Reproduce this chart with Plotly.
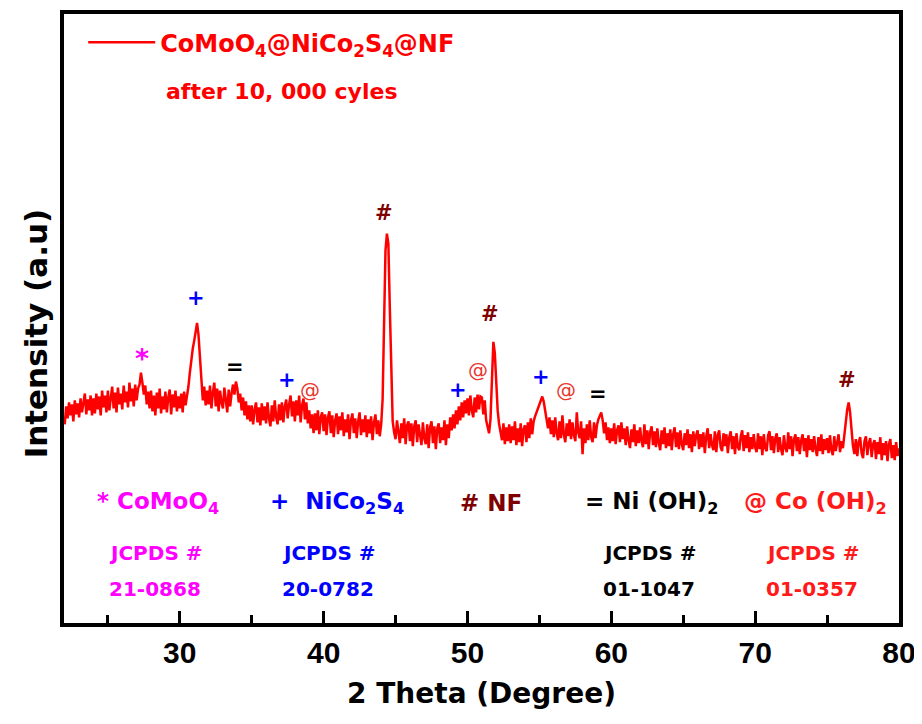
import numpy as np
import plotly.graph_objects as go

# 2-theta grid (degrees), 0.1 deg step from 22.0 to 80.0
two_theta = np.round(np.arange(22.0, 80.05, 0.1), 1)

# Intensity (a.u.), one row per degree
intensity = [
    200, 218, 206, 222, 209, 220, 203, 224, 210, 221,  # 22
    207, 226, 212, 223, 231, 210, 225, 214, 229, 209,  # 23
    226, 211, 231, 215, 228, 209, 234, 217, 229, 212,  # 24
    234, 214, 228, 238, 216, 232, 212, 237, 220, 231,  # 25
    215, 239, 222, 233, 217, 242, 223, 236, 218, 240,  # 26
    224, 236, 240, 252, 242, 230, 239, 220, 233, 216,  # 27
    234, 213, 229, 209, 232, 216, 236, 211, 228, 215,  # 28
    233, 212, 227, 235, 210, 230, 217, 234, 213, 228,  # 29
    216, 231, 212, 233, 219, 228, 238, 252, 268, 276,  # 30
    284, 295, 302, 290, 270, 246, 224, 238, 219, 234,  # 31
    220, 239, 216, 232, 242, 218, 236, 213, 234, 222,  # 32
    216, 237, 221, 212, 235, 218, 231, 240, 230, 243,  # 33
    236, 222, 231, 214, 227, 209, 223, 205, 219, 203,  # 34
    219, 200, 215, 222, 202, 217, 199, 221, 204, 218,  # 35
    201, 222, 206, 198, 219, 203, 224, 207, 200, 220,  # 36
    204, 222, 202, 218, 225, 206, 220, 229, 208, 223,  # 37
    203, 224, 209, 229, 202, 219, 226, 205, 222, 201,  # 38
    214, 196, 210, 191, 211, 194, 214, 190, 207, 212,  # 39
    193, 210, 189, 207, 213, 191, 209, 187, 204, 211,  # 40
    190, 208, 194, 212, 188, 205, 192, 210, 185, 204,  # 41
    211, 191, 206, 186, 203, 212, 189, 205, 192, 209,  # 42
    187, 205, 191, 208, 184, 202, 210, 190, 204, 188,  # 43
    200, 225, 300, 375, 392, 382, 318, 250, 203, 192,  # 44
    185, 204, 189, 181, 201, 186, 206, 180, 199, 203,  # 45
    183, 201, 178, 198, 204, 182, 200, 187, 179, 202,  # 46
    186, 180, 200, 176, 197, 203, 181, 198, 175, 196,  # 47
    201, 181, 197, 184, 204, 179, 200, 186, 207, 194,  # 48
    210, 196, 214, 200, 218, 204, 222, 207, 224, 211,  # 49
    226, 209, 229, 214, 207, 227, 212, 230, 215, 228,  # 50
    227, 210, 224, 204, 198, 191, 205, 250, 283, 272,  # 51
    240, 214, 200, 192, 184, 201, 180, 197, 183, 200,  # 52
    181, 198, 184, 203, 179, 196, 182, 201, 178, 195,  # 53
    199, 182, 202, 186, 206, 190, 203, 208, 212, 216,  # 54
    221, 226, 228, 223, 215, 206, 196, 207, 190, 204,  # 55
    187, 207, 191, 184, 203, 186, 209, 190, 182, 201,  # 56
    188, 205, 185, 202, 189, 183, 212, 192, 186, 203,  # 57
    170, 196, 181, 200, 184, 204, 187, 182, 202, 186,  # 58
    199, 205, 209, 212, 204, 191, 202, 184, 197, 181,  # 59
    196, 183, 201, 180, 194, 199, 182, 202, 185, 196,  # 60
    179, 198, 184, 176, 195, 182, 200, 178, 194, 181,  # 61
    197, 183, 177, 200, 180, 194, 175, 192, 198, 179,  # 62
    193, 177, 196, 181, 174, 194, 180, 197, 176, 191,  # 63
    178, 195, 174, 190, 197, 177, 192, 175, 194, 180,  # 64
    174, 191, 179, 195, 176, 190, 172, 193, 178, 189,  # 65
    194, 175, 190, 177, 192, 171, 188, 196, 176, 190,  # 66
    179, 174, 193, 172, 189, 194, 177, 173, 191, 178,  # 67
    190, 171, 187, 193, 175, 188, 170, 191, 177, 174,  # 68
    188, 194, 173, 189, 176, 192, 172, 187, 175, 190,  # 69
    177, 172, 191, 175, 188, 169, 190, 176, 173, 189,  # 70
    193, 174, 188, 171, 186, 191, 172, 187, 175, 169,  # 71
    189, 176, 172, 192, 175, 188, 168, 185, 190, 173,  # 72
    187, 170, 184, 190, 173, 186, 167, 189, 174, 185,  # 73
    172, 188, 175, 168, 187, 173, 190, 170, 185, 174,  # 74
    186, 171, 189, 174, 169, 188, 173, 184, 190, 172,  # 75
    183, 176, 190, 200, 215, 222, 212, 195, 178, 170,  # 76
    185, 168, 182, 187, 171, 166, 183, 188, 169, 181,  # 77
    186, 167, 180, 184, 165, 182, 170, 187, 164, 181,  # 78
    169, 183, 163, 180, 185, 166, 179, 164, 182, 168,  # 79
    176,                                               # 80
]

# Peak markers: symbol, 2-theta, intensity level of label, phase
marker_symbols = ["*", "+", "=", "+", "@", "#", "+", "@", "#", "+", "@", "=", "#"]
marker_theta = [27.4, 31.15, 33.85, 37.45, 39.05, 44.2, 49.35, 50.7, 51.55, 55.1, 56.85, 59.1, 76.4]
marker_level = [266, 327, 258, 245, 235, 413, 235, 255, 311, 248, 235, 231, 245]
marker_phase = ["CoMoO4", "NiCo2S4", "NiOH2", "NiCo2S4", "CoOH2", "NF", "NiCo2S4", "CoOH2",
                "NF", "NiCo2S4", "CoOH2", "NiOH2", "NF"]

phase_colors = {
    "CoMoO4": "#ff00ff",
    "NiCo2S4": "#0000ff",
    "NF": "#7f0000",
    "NiOH2": "#000000",
    "CoOH2": "#ff1a1a",
}

# Phase key (bottom of plot)
phase_keys = ["CoMoO4", "NiCo2S4", "NF", "NiOH2", "CoOH2"]
phase_titles = ["* CoMoO<sub>4</sub>", "+  NiCo<sub>2</sub>S<sub>4</sub>", "# NF",
                "= Ni (OH)<sub>2</sub>", "@ Co (OH)<sub>2</sub>"]
phase_cards = ["21-0868", "20-0782", "", "01-1047", "01-0357"]
phase_title_x = [24.1, 36.1, 49.34, 58.0, 69.1]
phase_card_x = [24.95, 37.0, None, 59.3, 70.6]

x_ticks = [30, 40, 50, 60, 70, 80]

WIDE = "DejaVu Sans"
TICK = "Liberation Sans"

fig = go.Figure()
fig.add_trace(go.Scatter(
    x=two_theta, y=intensity, mode="lines",
    line=dict(color="#ff0000", width=2.5),
    name="<b>CoMoO<sub>4</sub>@NiCo<sub>2</sub>S<sub>4</sub>@NF</b>",
    showlegend=True,
))

annotations = []
for s, xt, lv, ph in zip(marker_symbols, marker_theta, marker_level, marker_phase):
    col = phase_colors[ph]
    if s == "@":
        col = "#e8372f"
    size = 21
    if s == "@":
        size = 20
    elif s == "*":
        size = 27
    annotations.append(dict(
        x=xt, y=lv, xref="x", yref="y", text=s if s == "@" else "<b>%s</b>" % s,
        showarrow=False,
        font=dict(family=WIDE, size=size, color=col),
        xanchor="center", yanchor="middle",
    ))

for key, title, card, tx, cx in zip(phase_keys, phase_titles, phase_cards, phase_title_x, phase_card_x):
    col = phase_colors[key]
    annotations.append(dict(
        x=tx, y=121, xref="x", yref="y", text="<b>%s</b>" % title, showarrow=False,
        font=dict(family=WIDE, size=23, color=col), xanchor="left", yanchor="middle",
    ))
    if card:
        annotations.append(dict(
            x=cx, y=70, xref="x", yref="y", text="<b>JCPDS #</b>", showarrow=False,
            font=dict(family=WIDE, size=20, color=col), xanchor="left", yanchor="middle",
        ))
        annotations.append(dict(
            x=cx, y=34, xref="x", yref="y", text="<b>%s</b>" % card, showarrow=False,
            font=dict(family=WIDE, size=20, color=col), xanchor="left", yanchor="middle",
        ))

annotations.append(dict(
    x=0.12, y=0.872, xref="paper", yref="paper", text="<b>after 10, 000 cyles</b>",
    showarrow=False, font=dict(family=WIDE, size=22, color="#ff0000"),
    xanchor="left", yanchor="middle",
))

# y-axis title, placed a little below the plot centre as in the original
annotations.append(dict(
    x=-0.034, y=0.475, xref="paper", yref="paper", text="<b>Intensity (a.u)</b>",
    textangle=-90, showarrow=False, font=dict(family=WIDE, size=31, color="black"),
    xanchor="center", yanchor="middle",
))

fig.update_layout(
    width=922, height=724,
    margin=dict(l=56, r=31, t=6, b=109),
    paper_bgcolor="white", plot_bgcolor="white",
    showlegend=True,
    legend=dict(
        x=0.023, y=0.99, xanchor="left", yanchor="top",
        font=dict(family=WIDE, size=24, color="#ff0000"),
        bgcolor="rgba(0,0,0,0)", itemwidth=67,
    ),
    annotations=annotations,
    xaxis=dict(
        range=[21.95, 80], showgrid=False, zeroline=False, automargin=False,
        showline=True, linecolor="black", linewidth=4, mirror=True,
        ticks="inside", ticklen=12, tickwidth=3, tickcolor="black",
        tickvals=x_ticks, ticktext=["<b>%d</b>" % t for t in x_ticks],
        tickfont=dict(family=TICK, size=30, color="black"),
        minor=dict(ticks="inside", ticklen=8, tickwidth=3, tickcolor="black", dtick=5, tick0=25),
        title=dict(text="<b>2 Theta (Degree)</b>", font=dict(family=WIDE, size=28, color="black"),
                   standoff=16),
    ),
    yaxis=dict(
        range=[0, 613], showgrid=False, zeroline=False, automargin=False,
        showline=True, linecolor="black", linewidth=4, mirror=True,
        ticks="", showticklabels=False,
    ),
)

fig.write_html("out.html")
